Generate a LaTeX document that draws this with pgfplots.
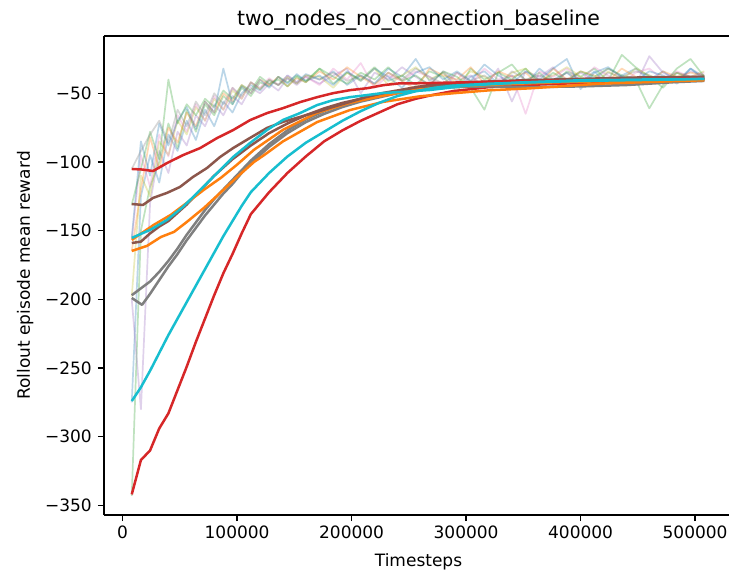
\documentclass[border=0pt]{standalone}
\usepackage{fontspec}
\setmainfont{DejaVu Sans}
\usepackage{pgfplots}
\usepackage{pgfplotstable}
\pgfplotsset{compat=1.18}
\definecolor{tblue}{HTML}{1F77B4}
\definecolor{torange}{HTML}{FF7F0E}
\definecolor{tgreen}{HTML}{2CA02C}
\definecolor{tred}{HTML}{D62728}
\definecolor{tpurple}{HTML}{9467BD}
\definecolor{tbrown}{HTML}{8C564B}
\definecolor{tpink}{HTML}{E377C2}
\definecolor{tgray}{HTML}{7F7F7F}
\definecolor{tolive}{HTML}{BCBD22}
\definecolor{tcyan}{HTML}{17BECF}

% raw (faint) runs, x in thousands of timesteps
\pgfplotstableread{
x l1 l2 l3 l4 l5 l6 l7 l8 l9
8 -343 -275 -200 -198 -165 -157 -155 -131 -105
16 -150 -125 -280 -110 -120 -95 -85 -105 -92
24 -118 -95 -130 -125 -82 -118 -110 -78 -80
32 -100 -115 -92 -85 -105 -80 -72 -98 -70
40 -72 -80 -108 -95 -75 -96 -88 -40 -86
48 -90 -92 -78 -70 -86 -66 -70 -72 -62
56 -62 -70 -88 -80 -64 -78 -60 -58 -74
64 -78 -84 -66 -60 -74 -58 -76 -66 -56
72 -58 -62 -74 -70 -56 -70 -56 -54 -66
80 -66 -74 -58 -54 -64 -52 -64 -60 -50
88 -52 -56 -66 -62 -50 -62 -32 -48 -58
96 -58 -64 -52 -48 -56 -46 -58 -54 -46
104 -46 -50 -58 -54 -44 -54 -45 -44 -52
112 -52 -44 -46 -42 -50 -42 -50 -48 -42
120 -42 -48 -50 -47 -40 -46 -40 -38 -47
128 -45 -40 -43 -40 -44 -39 -46 -43 -41
136 -38 -44 -48 -44 -38 -44 -38 -40 -44
144 -42 -37 -39 -38 -45 -37 -43 -45 -39
152 -37 -42 -44 -43 -39 -42 -36 -38 -43
160 -41 -36 -38 -37 -42 -38 -41 -42 -37
172 -32 -40 -43 -38 -34 -44 -37 -32 -40
184 -43 -34 -37 -46 -40 -32 -44 -38 -35
196 -35 -44 -32 -35 -31 -40 -34 -43 -41
208 -40 -37 -50 -41 -38 -28 -41 -35 -37
220 -31 -43 -35 -32 -44 -46 -32 -40 -43
232 -41 -32 -40 -44 -35 -37 -38 -31 -35
244 -37 -38 -31 -37 -41 -41 -46 -41 -40
256 -44 -25 -38 -31 -47 -34 -35 -37 -32
268 -34 -41 -44 -40 -32 -38 -31 -44 -38
280 -38 -35 -34 -35 -37 -47 -40 -34 -43
292 -49 -46 -41 -43 -40 -35 -34 -38 -35
304 -32 -38 -37 -34 -31 -43 -41 -46 -41
316 -40 -34 -46 -38 -43 -32 -29 -62 -37
328 -35 -43 -32 -44 -34 -40 -37 -35 -44
340 -29 -37 -56 -35 -38 -37 -43 -40 -34
352 -41 -44 -34 -32 -35 -65 -34 -32 -40
364 -35 -32 -38 -41 -44 -34 -40 -43 -37
376 -44 -40 -31 -37 -32 -38 -32 -35 -41
388 -34 -35 -41 -31 -40 -32 -25 -41 -35
400 -38 -43 -35 -38 -34 -41 -47 -34 -40
412 -32 -34 -40 -43 -37 -31 -35 -38 -44
424 -41 -44 -32 -34 -41 -37 -31 -32 -35
436 -22 -37 -38 -40 -32 -43 -38 -37 -38
448 -31 -32 -44 -32 -38 -35 -41 -40 -34
460 -38 -40 -23 -37 -43 -32 -34 -61 -37
472 -46 -34 -35 -41 -34 -40 -37 -44 -41
484 -35 -41 -40 -35 -38 -34 -43 -32 -35
496 -40 -32 -34 -38 -35 -38 -32 -25 -38
508 -37 -38 -37 -34 -37 -35 -40 -38 -37
}\faint

\begin{document}
\begin{tikzpicture}
\begin{axis}[
  at={(0pt,0pt)}, anchor=south west,
  scale only axis, width=629pt, height=479pt,
  xmin=-16.25, xmax=533.1, ymin=-357, ymax=-8.3,
  axis x line*=bottom, axis y line*=left,
  xtick={0,100,200,300,400,500},
  xticklabels={0,100000,200000,300000,400000,500000},
  ytick={-350,-300,-250,-200,-150,-100,-50},
  yticklabels={−350,−300,−250,−200,−150,−100,−50},
  tick pos=left, tick align=outside, major tick length=6pt,
  every tick/.style={black, line width=1.36pt},
  axis line style={line width=1.36pt, black, -},
  ticklabel style={font=\fontsize{17}{20}\selectfont},
  xticklabel style={anchor=base, yshift=-17pt},
  yticklabel style={anchor=east, inner sep=0pt, xshift=-6pt},
  line join=round,
  faint/.style={line width=1.7pt, opacity=0.3},
  solid/.style={line width=2.5pt},
]
\addplot[faint, tgreen] table[x=x,y=l1]{\faint};
\addplot[faint, tblue] table[x=x,y=l2]{\faint};
\addplot[faint, tpurple] table[x=x,y=l3]{\faint};
\addplot[faint, tolive] table[x=x,y=l4]{\faint};
\addplot[faint, torange] table[x=x,y=l5]{\faint};
\addplot[faint, tpink] table[x=x,y=l6]{\faint};
\addplot[faint, tblue] table[x=x,y=l7]{\faint};
\addplot[faint, tgreen] table[x=x,y=l8]{\faint};
\addplot[faint, tgray] table[x=x,y=l9]{\faint};

% smoothed runs
\addplot[solid, tred] coordinates {(8,-342) (16,-317) (24,-310) (32,-294) (40,-283) (48,-266) (56,-249) (64,-231) (72,-214) (80,-197) (88,-181) (96,-167) (104,-152) (112,-138) (128,-122) (144,-108) (160,-96) (176,-85) (192,-77) (208,-70) (224,-64) (240,-58) (256,-54) (272,-51) (288,-48.5) (304,-47) (320,-45.5) (352,-44) (384,-43) (416,-42) (448,-41.5) (480,-41) (508,-40.5)};
\addplot[solid, tgray] coordinates {(8,-199) (17,-204) (24,-196) (32,-186) (40,-176) (48,-167) (56,-157) (64,-148) (72,-139) (80,-131) (88,-123) (96,-116) (104,-108) (112,-101) (128,-89) (144,-79) (160,-71) (176,-65) (192,-60) (208,-56) (224,-53) (240,-50) (256,-48) (272,-46.5) (288,-45.5) (320,-45) (360,-45.5) (400,-45) (440,-44) (480,-42) (508,-41)};
\addplot[solid, tgray] coordinates {(8,-197) (16,-192) (24,-187) (32,-180) (40,-172) (48,-163) (56,-153) (64,-144) (72,-135) (80,-127) (88,-120) (96,-113) (104,-106) (112,-99) (128,-87) (144,-77) (160,-69) (176,-63) (192,-58) (208,-54) (224,-51) (240,-48.5) (256,-46.5) (272,-45) (300,-43.5) (340,-42) (380,-41) (420,-40.5) (460,-40) (508,-39.5)};
\addplot[solid, torange] coordinates {(8,-164.8) (21.3,-161.1) (33.5,-154.6) (44.9,-150.9) (56.2,-143.6) (71.1,-133.4) (85.9,-122) (99.9,-111) (114.8,-100) (123.6,-95) (140.1,-85) (169.8,-71) (198.6,-62.2) (227.4,-56.3) (259.7,-52.2) (288.5,-50) (320.8,-47.8) (355.8,-46.4) (417,-43) (470,-41.5) (508,-40.5)};
\addplot[solid, tbrown] coordinates {(8,-159) (16,-158) (24,-152) (32,-147) (40,-143) (48,-137) (56,-131) (64,-124) (72,-117) (80,-110) (96,-98) (112,-88) (128,-79) (144,-72) (160,-66) (176,-61) (192,-57) (208,-54) (224,-51) (240,-49) (256,-47) (272,-45.5) (300,-44) (350,-42.5) (400,-41) (450,-40) (508,-39)};
\addplot[solid, torange] coordinates {(8,-156.7) (27.4,-145.7) (42.3,-138.4) (56.2,-129.7) (71.1,-120.2) (85.9,-111.5) (99.9,-102) (114.8,-91.1) (140.1,-76.6) (169.8,-64.2) (198.6,-56.9) (227.4,-51.8) (257.1,-47.4) (286,-45.3) (330,-43.5) (380,-42) (430,-41) (480,-40.5) (508,-40)};
\addplot[solid, tbrown] coordinates {(8,-130.6) (17.8,-131.3) (26.5,-126.2) (38.8,-122.5) (50.1,-118.2) (61.5,-110.9) (73.7,-104.4) (85.1,-96.4) (96.5,-89.9) (111.3,-82.5) (126.2,-75.2) (140.1,-70.8) (155,-67.2) (169.8,-63.5) (183.8,-59.9) (198.6,-56.3) (213.4,-52.6) (227.4,-49.8) (242.3,-47.6) (257.1,-45.4) (268.5,-43.9) (300,-42) (350,-40.5) (400,-39.5) (450,-38.5) (508,-38)};
\addplot[solid, tred] coordinates {(8,-105.1) (17,-105.5) (26.6,-106.6) (38.8,-100.8) (52.8,-95) (67.7,-89.9) (82.5,-82.6) (96.5,-76.8) (111.4,-69.5) (126.2,-64.4) (140.2,-60.8) (155.1,-56.4) (170,-52.8) (184,-49.9) (198.8,-47.7) (213.7,-46.3) (227.7,-44.1) (242.5,-42.7) (257.4,-42.7) (270,-42.5) (300,-42) (330,-41.5) (360,-41) (400,-40.5) (440,-40) (480,-39.5) (508,-39)};
\addplot[solid, tcyan] coordinates {(8,-274) (16,-264) (24,-252) (32,-239) (40,-226) (48,-214) (56,-202) (64,-190) (72,-178) (80,-166) (88,-154) (96,-143) (104,-132) (112,-122) (128,-108) (144,-96) (160,-86) (176,-78) (192,-70) (208,-63) (224,-57) (240,-52) (256,-48.5) (272,-46) (288,-44.5) (320,-43) (360,-42) (400,-41) (440,-40.5) (480,-40) (508,-39.5)};
\addplot[solid, tcyan] coordinates {(8,-155.3) (23.9,-149.5) (38.8,-142.2) (52.8,-132.7) (67.7,-120.4) (82.5,-108) (96.5,-96.4) (111.3,-86.2) (126.2,-76.7) (140.1,-69.4) (155,-64.4) (169.8,-58.6) (183.8,-55) (198.6,-52.8) (213.4,-51.3) (227.4,-49.8) (242.3,-49.1) (268.5,-47.6) (300,-44.5) (350,-42) (400,-40.5) (450,-40) (508,-39.5)};
\draw[line width=1.36pt, black] (rel axis cs:0,1) -- (rel axis cs:1,1);
\end{axis}
\node[anchor=base, font=\fontsize{20.4}{24}\selectfont] at (314.5pt,489pt) {two\_nodes\_no\_connection\_baseline};
\node[anchor=base, font=\fontsize{17}{20}\selectfont] at (314.5pt,-51pt) {Timesteps};
\node[anchor=base, rotate=90, font=\fontsize{17}{20}\selectfont] at (-74pt,239.5pt) {Rollout episode mean reward};
\pgfresetboundingbox
\useasboundingbox (-104pt,-56pt) rectangle (625pt,515pt);
\end{tikzpicture}
\end{document}
